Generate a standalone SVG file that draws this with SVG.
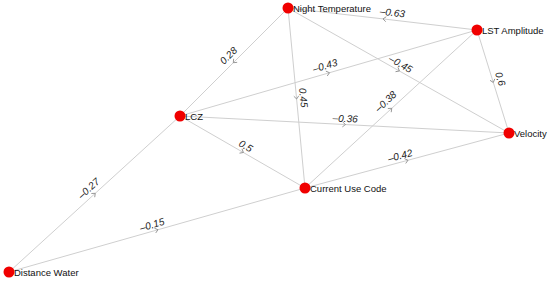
<svg xmlns="http://www.w3.org/2000/svg" width="550" height="281" viewBox="0 0 550 281">
<style>
.e{stroke:#cfcfcf;stroke-width:1;fill:none;marker-mid:url(#a)}
.l{font-family:"Liberation Sans",Arial,sans-serif;font-size:10px;font-style:italic;fill:#222;text-anchor:middle}
.n{fill:#f00000}
.t{font-family:"Liberation Sans",Arial,sans-serif;font-size:9.5px;fill:#111}
</style>
<defs>
<marker id="a" markerWidth="8" markerHeight="8" refX="4" refY="4" orient="auto" markerUnits="userSpaceOnUse">
<path d="M2,1.5 L5,4 L2,6.5" fill="none" stroke="#888" stroke-width="0.8"/>
</marker>
</defs>
<rect width="550" height="281" fill="#fff"/>
<g id="connectors">
<path class="e" d="M477,30 L384,19 L288,8"/>
<path class="e" d="M288,8 L234,62 L180,116"/>
<path class="e" d="M288,8 L296.5,98 L305,188"/>
<path class="e" d="M288,8 L398.5,70.5 L509,133"/>
<path class="e" d="M180,116 L328.5,73 L477,30"/>
<path class="e" d="M305,188 L391,109 L477,30"/>
<path class="e" d="M477,30 L493,81.5 L509,133"/>
<path class="e" d="M180,116 L344.5,124.5 L509,133"/>
<path class="e" d="M180,116 L242.5,152 L305,188"/>
<path class="e" d="M305,188 L407,160.5 L509,133"/>
<path class="e" d="M9,272 L94.5,194 L180,116"/>
<path class="e" d="M9,272 L157,230 L305,188"/>
<text class="l" transform="translate(392,16) rotate(6.6)">–0.63</text>
<text class="l" transform="translate(231,58) rotate(-45)">0.28</text>
<text class="l" transform="translate(300,98) rotate(84.6)">0.45</text>
<text class="l" transform="translate(399,67) rotate(29.5)">–0.45</text>
<text class="l" transform="translate(326,69) rotate(-16.1)">–0.43</text>
<text class="l" transform="translate(388,104) rotate(-42.6)">–0.38</text>
<text class="l" transform="translate(497,80) rotate(72.7)">0.6</text>
<text class="l" transform="translate(345,122) rotate(2.96)">–0.36</text>
<text class="l" transform="translate(244,149) rotate(29.9)">0.5</text>
<text class="l" transform="translate(401,159) rotate(-15.1)">–0.42</text>
<text class="l" transform="translate(91,191) rotate(-42.4)">–0.27</text>
<text class="l" transform="translate(153,228) rotate(-15.8)">–0.15</text>
</g>
<g id="night-temperature"><circle class="n" cx="288" cy="8" r="5.5"/><text class="t" x="293" y="12">Night Temperature</text></g>
<g id="lst-amplitude"><circle class="n" cx="477" cy="30" r="5.5"/><text class="t" x="482" y="34">LST Amplitude</text></g>
<g id="lcz"><circle class="n" cx="180" cy="116" r="5.5"/><text class="t" x="185" y="120">LCZ</text></g>
<g id="velocity"><circle class="n" cx="509" cy="133" r="5.5"/><text class="t" x="514" y="137">Velocity</text></g>
<g id="current-use-code"><circle class="n" cx="305" cy="188" r="5.5"/><text class="t" x="310" y="192">Current Use Code</text></g>
<g id="distance-water"><circle class="n" cx="9" cy="272" r="5.5"/><text class="t" x="14" y="276">Distance Water</text></g>
</svg>
